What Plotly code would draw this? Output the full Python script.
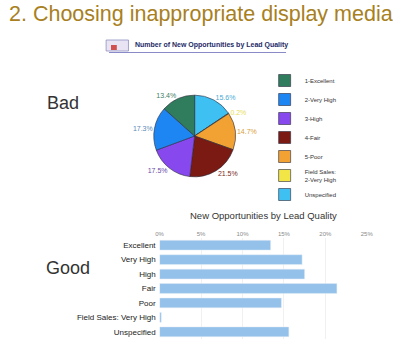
import plotly.graph_objects as go

# Data
pie_labels = ["1-Excellent", "2-Very High", "3-High", "4-Fair", "5-Poor",
              "Field Sales:<br>2-Very High", "Unspecified"]
pie_values = [13.4, 17.3, 17.5, 21.5, 14.7, 0.2, 15.6]
pie_colors = ["#2F7D5C", "#1E86F2", "#8748EE", "#7A1A12", "#F2A233", "#F2E646", "#3EC0F2"]
pie_text_colors = ["#3F7E66", "#5A88B8", "#6A4AA8", "#7A2A1A", "#D9A040", "#E6DC5A", "#4AAAD4"]

bar_categories = ["Excellent", "Very High", "High", "Fair", "Poor",
                  "Field Sales: Very High", "Unspecified"]
bar_values = [13.4, 17.2, 17.5, 21.4, 14.7, 0.2, 15.6]
bar_ticks = [0, 5, 10, 15, 20, 25]
bar_tick_labels = ["0%", "5%", "10%", "15%", "20%", "25%"]

W, H = 400, 341
def px(x):
    return x / W
def py(y):
    return 1 - y / H

fig = go.Figure()

# slices drawn clockwise from 12 o'clock in reverse legend order
fig.add_trace(go.Pie(
    labels=pie_labels[::-1], values=pie_values[::-1], sort=False, direction="clockwise",
    rotation=0,
    marker=dict(colors=pie_colors[::-1], line=dict(color="#2a2a3a", width=0.6)),
    texttemplate="%{value:.1f}%", textposition="outside",
    textfont=dict(size=7, color=pie_text_colors[::-1], family="Liberation Sans, Arial"),
    domain=dict(x=[px(154), px(238)], y=[py(178), py(94)]),
    showlegend=True, hoverinfo="label+value",
))

fig.add_trace(go.Bar(
    x=bar_values, y=bar_categories, orientation="h",
    marker=dict(color="#93C1EA"), showlegend=False,
    xaxis="x", yaxis="y",
))

fig.update_layout(
    width=W, height=H, margin=dict(l=0, r=0, t=0, b=0),
    paper_bgcolor="white", plot_bgcolor="white",
    font=dict(family="Liberation Sans, Arial", color="#222"),
    bargap=0.32,
    xaxis=dict(domain=[px(160), px(373)], range=[0, 25], side="top",
               tickvals=bar_ticks, ticktext=bar_tick_labels,
               tickfont=dict(size=6, color="#8a8a8a"), showgrid=True,
               gridcolor="#f0f0f0", zeroline=False, showline=False, ticks="",
               anchor="y", fixedrange=True),
    yaxis=dict(domain=[py(339), py(238)], autorange="reversed",
               tickfont=dict(size=8, color="#222"), showgrid=False,
               showline=False, ticks="", anchor="x", ticklabelstandoff=3),
    legend=dict(x=px(268), y=py(66), xanchor="left", yanchor="top",
                font=dict(size=6, color="#333"), bgcolor="rgba(0,0,0,0)",
                itemwidth=30, tracegroupgap=0, traceorder="reversed"),
    annotations=[
        dict(text="2. Choosing inappropriate display media", x=px(3), y=py(14),
             xref="paper", yref="paper", xanchor="left", yanchor="middle",
             showarrow=False, font=dict(size=21.5, color="#A8801E")),
        dict(text="<b>Number of New Opportunities by Lead Quality</b>", x=px(133), y=py(45),
             xref="paper", yref="paper", xanchor="left", yanchor="middle",
             showarrow=False, font=dict(size=7, color="#1E2A66")),
        dict(text="Bad", x=px(42), y=py(103), xref="paper", yref="paper",
             xanchor="left", yanchor="middle", showarrow=False,
             font=dict(size=18, color="#333")),
        dict(text="Good", x=px(41), y=py(268), xref="paper", yref="paper",
             xanchor="left", yanchor="middle", showarrow=False,
             font=dict(size=18, color="#333")),
        dict(text="New Opportunities by Lead Quality", x=px(267), y=py(215),
             xref="paper", yref="paper", xanchor="center", yanchor="middle",
             showarrow=False, font=dict(size=9.5, color="#333")),
    ],
    shapes=[
        dict(type="rect", xref="paper", yref="paper", x0=px(105), x1=px(128),
             y0=py(51), y1=py(40), fillcolor="#E8E4F4", line=dict(color="#9090C0", width=0.8)),
        dict(type="rect", xref="paper", yref="paper", x0=px(110), x1=px(116),
             y0=py(50), y1=py(45), fillcolor="#D05050", line=dict(width=0)),
        dict(type="line", xref="paper", yref="paper", x0=px(108), x1=px(290),
             y0=py(52.5), y1=py(52.5), line=dict(color="#8A8AC8", width=1.2)),
    ],
)

fig.write_html("out.html")
